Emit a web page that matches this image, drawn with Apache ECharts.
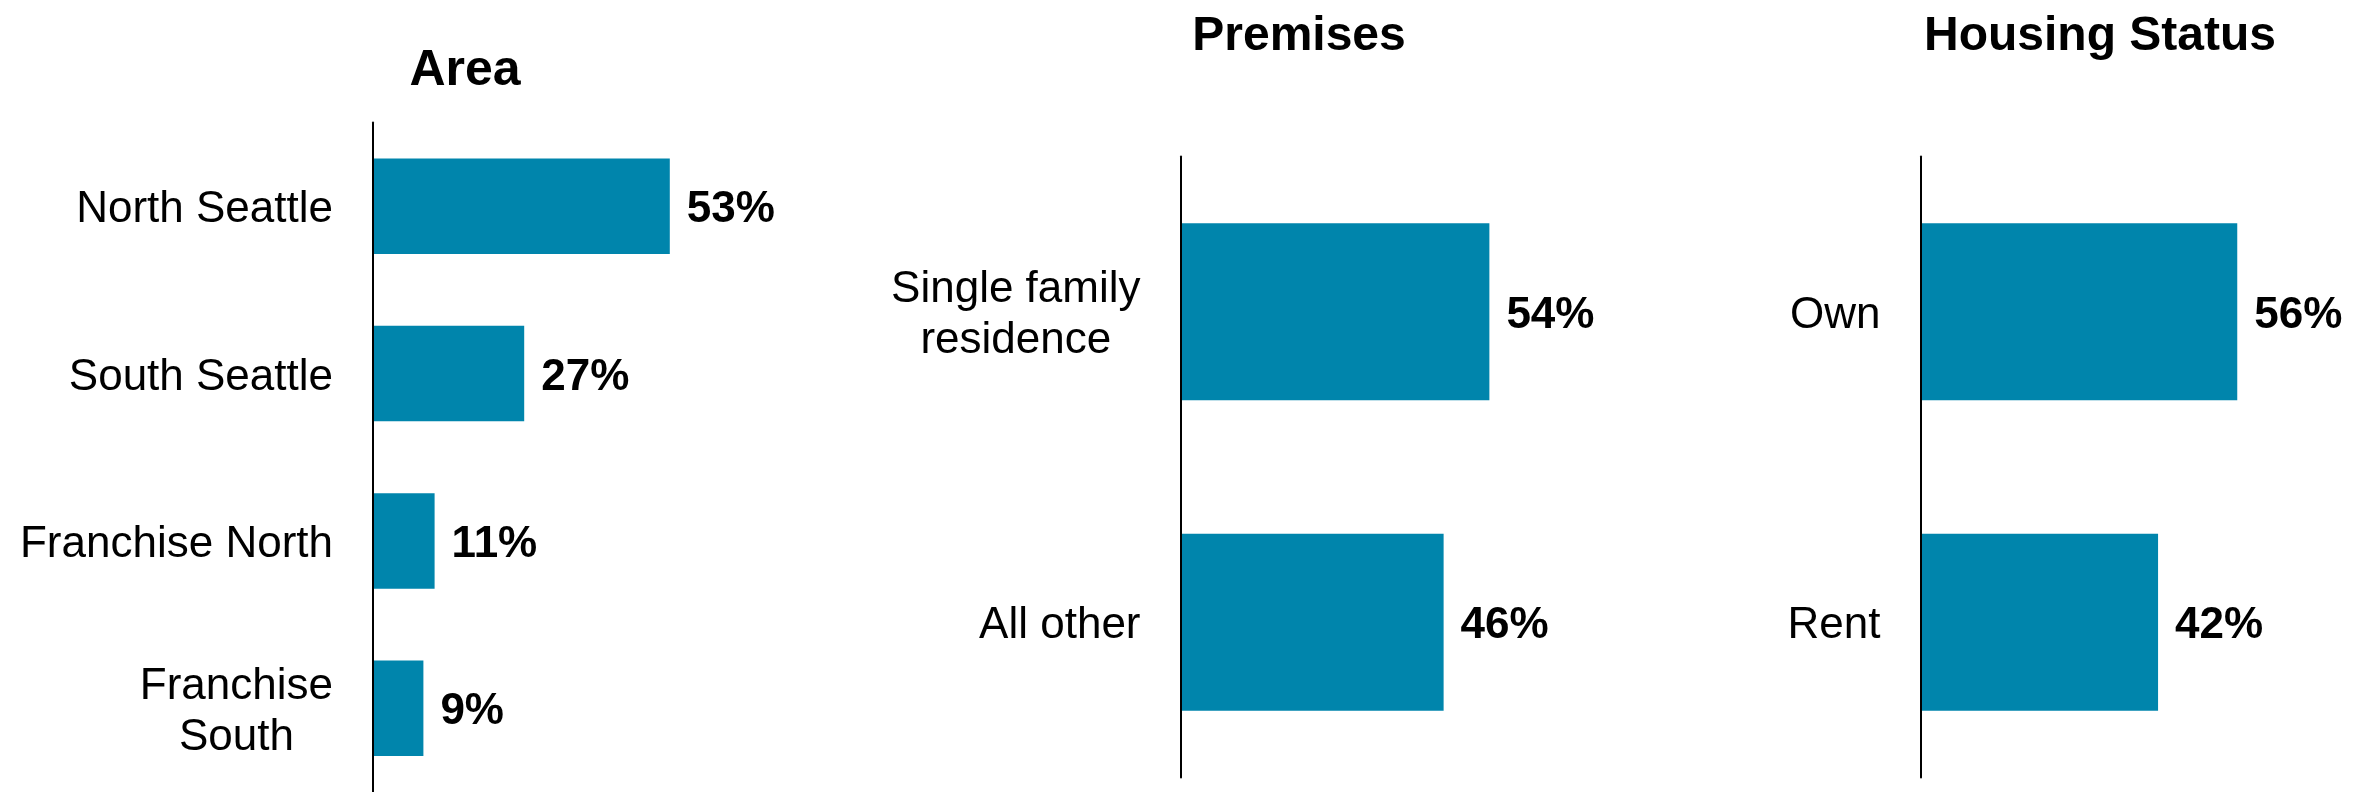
<!DOCTYPE html>
<html>
<head>
<meta charset="utf-8">
<style>
  html, body { margin: 0; padding: 0; background: #ffffff; }
  #chart { width: 2373px; height: 792px; }
</style>
<script src="https://cdn.jsdelivr.net/npm/echarts@6/dist/echarts.min.js"></script>
</head>
<body>
<div id="chart"></div>
<script>
// Share of respondents by area, premises type and housing status (percent)
const areaCategories = ['North Seattle', 'South Seattle', 'Franchise North', 'Franchise\nSouth'];
const areaValues = [53, 27, 11, 9];

const premisesCategories = ['Single family\nresidence', 'All other'];
const premisesValues = [54, 46];

const housingCategories = ['Own', 'Rent'];
const housingValues = [56, 42];

const panelTitles = ['Area', 'Premises', 'Housing Status'];

const FONT = '"Liberation Sans", Arial, Helvetica, sans-serif';
const BAR_COLOR = '#0085AC';
const X_MAX = 80;

const chart = echarts.init(document.getElementById('chart'), null, { renderer: 'canvas' });

// panel geometry: grid box and title placement
const panels = [
  { cats: areaCategories, vals: areaValues, grid: { left: 373, top: 122.5, width: 448, height: 672.5 }, titleX: 465, titleY: 71, titleSize: 50 },
  { cats: premisesCategories, vals: premisesValues, grid: { left: 1180.5, top: 156.5, width: 457.6, height: 621 }, titleX: 1299, titleY: 37, titleSize: 48 },
  { cats: housingCategories, vals: housingValues, grid: { left: 1920.5, top: 156.5, width: 457.6, height: 621 }, titleX: 2100, titleY: 37, titleSize: 48 }
];

// category labels: each line centered within the label block
function centeredLines(value) {
  return value.split('\n').map(function (s) { return '{c|' + s + '}'; }).join('\n');
}

const option = {
  backgroundColor: '#ffffff',
  animation: false,
  grid: panels.map(function (p) { return Object.assign({ containLabel: false }, p.grid); }),
  xAxis: panels.map(function (p, i) {
    return { type: 'value', gridIndex: i, min: 0, max: X_MAX, show: false };
  }),
  yAxis: panels.map(function (p, i) {
    return {
      type: 'category',
      gridIndex: i,
      data: p.cats,
      inverse: true,
      z: 5,
      axisLine: { show: true, lineStyle: { color: '#000000', width: 2 } },
      axisTick: { show: false },
      splitLine: { show: false },
      axisLabel: {
        margin: 40,
        align: 'right',
        padding: [8, 0, 0, 0],
        formatter: centeredLines,
        rich: {
          c: { align: 'center', fontSize: 44, lineHeight: 51, fontFamily: FONT, color: '#000000' }
        }
      }
    };
  }),
  series: panels.map(function (p, i) {
    return {
      type: 'bar',
      xAxisIndex: i,
      yAxisIndex: i,
      data: p.vals,
      barCategoryGap: '43%',
      z: 2,
      itemStyle: { color: BAR_COLOR },
      label: {
        show: true,
        position: 'right',
        distance: 17,
        offset: [0, 4],
        formatter: '{c}%',
        fontFamily: FONT,
        fontSize: 44,
        fontWeight: 'bold',
        color: '#000000'
      }
    };
  }),
  graphic: panels.map(function (p, i) {
    return {
      type: 'text',
      x: p.titleX,
      y: p.titleY,
      style: {
        text: panelTitles[i],
        fontFamily: FONT,
        fontSize: p.titleSize,
        fontWeight: 'bold',
        fill: '#000000',
        align: 'center',
        verticalAlign: 'middle'
      }
    };
  })
};

chart.setOption(option);
</script>
</body>
</html>
